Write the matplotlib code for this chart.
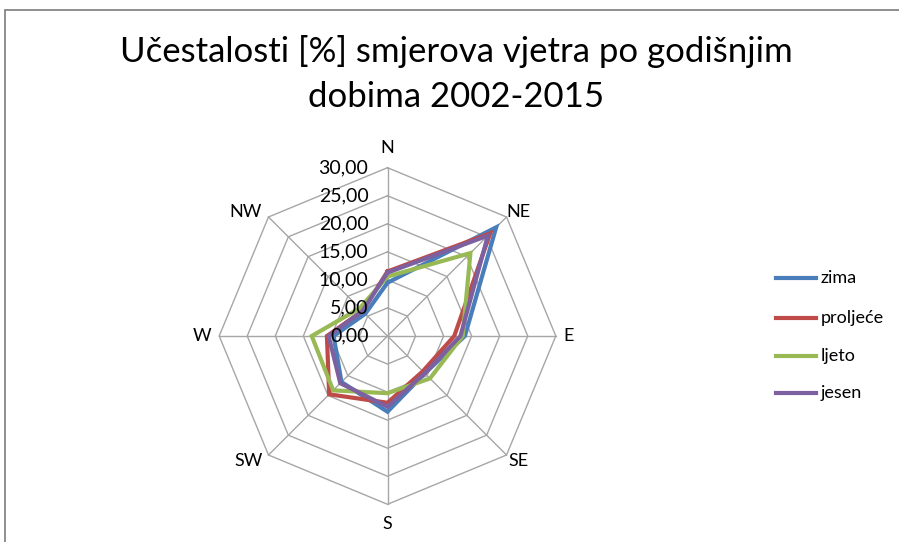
import numpy as np
import matplotlib
matplotlib.use("Agg")
import matplotlib.pyplot as plt
from matplotlib.patches import Rectangle

plt.rcParams['font.family'] = ['Lato', 'DejaVu Sans']

directions = ['N', 'NE', 'E', 'SE', 'S', 'SW', 'W', 'NW']
zima = [9.5, 27.4, 13.8, 9.4, 13.5, 11.6, 9.6, 5.6]
proljece = [11.5, 25.9, 11.9, 8.9, 11.9, 14.7, 10.8, 6.3]
ljeto = [10.6, 20.9, 13.4, 10.7, 10.2, 13.7, 13.5, 7.0]
jesen = [11.3, 25.3, 13.0, 9.4, 12.6, 11.9, 10.5, 6.3]
series_names = ['zima', 'proljeće', 'ljeto', 'jesen']
colors = ['#4A7EBB', '#BE4B48', '#98B954', '#7D60A0']
ticks = [0, 5, 10, 15, 20, 25, 30]

W, H = 899, 542
cx, cy = 387.5, 336.0      # pixel centre of the radar
ppu = 5.61                 # pixels per unit

fig = plt.figure(figsize=(W / 100, H / 100), dpi=100)
ax = fig.add_axes([0, 0, 1, 1])
ax.set_xlim(-cx / ppu, (W - cx) / ppu)
ax.set_ylim(-(H - cy) / ppu, cy / ppu)
ax.axis('off')

n = len(directions)
ang = np.arange(n) * 2 * np.pi / n


def xy(r):
    r = np.asarray(r, dtype=float)
    return r * np.sin(ang), r * np.cos(ang)


# grid rings and spokes
for t in ticks[1:]:
    x, y = xy([t] * n)
    ax.plot(np.append(x, x[0]), np.append(y, y[0]), color='#A6A6A6', lw=1.0, zorder=1)
for a in ang:
    ax.plot([0, ticks[-1] * np.sin(a)], [0, ticks[-1] * np.cos(a)],
            color='#A6A6A6', lw=1.0, zorder=1)

# series
for vals, name, c in zip([zima, proljece, ljeto, jesen], series_names, colors):
    x, y = xy(vals)
    ax.plot(np.append(x, x[0]), np.append(y, y[0]), color=c, lw=3.0,
            solid_joinstyle='miter', zorder=3)

# category labels, anchored just outside the outer vertices (offsets in px)
anchors = [('center', 'bottom', 0, 12), ('left', 'center', 0, 5),
           ('left', 'center', 8, 0), ('left', 'center', 2, -6),
           ('center', 'top', 0, -12), ('right', 'center', -6, -6),
           ('right', 'center', -8, 0), ('right', 'center', -7, 5)]
vx, vy = xy([ticks[-1]] * n)
for d, x0, y0, (ha, va, ox, oy) in zip(directions, vx, vy, anchors):
    ax.text(x0 + ox / ppu, y0 + oy / ppu, d, ha=ha, va=va, fontsize=13, color='#000000')

# value labels
for t in ticks:
    ax.text(-3.4, t, f'{t:.2f}'.replace('.', ','), ha='right', va='center',
            fontsize=14, color='#000000', zorder=4)

# title
fig.text(456 / W, 1 - 52 / H, 'Učestalosti [%] smjerova vjetra po godišnjim',
         ha='center', va='center', fontsize=25)
fig.text(456 / W, 1 - 97 / H, 'dobima 2002-2015', ha='center', va='center', fontsize=25)

# legend
leg_y = [278, 318, 356, 393]
for name, c, yy in zip(series_names, colors, leg_y):
    fig.lines.append(plt.Line2D([776 / W, 816 / W], [1 - yy / H, 1 - yy / H],
                                transform=fig.transFigure, color=c, lw=3.0))
    fig.text(821 / W, 1 - yy / H, name, ha='left', va='center', fontsize=13)

# chart border
fig.patches.append(Rectangle((5 / W, -0.1), 2, 1.1 - 10 / H, transform=fig.transFigure,
                             fill=False, edgecolor='#868686', lw=1.3))

fig.savefig('out.png', dpi=100)
